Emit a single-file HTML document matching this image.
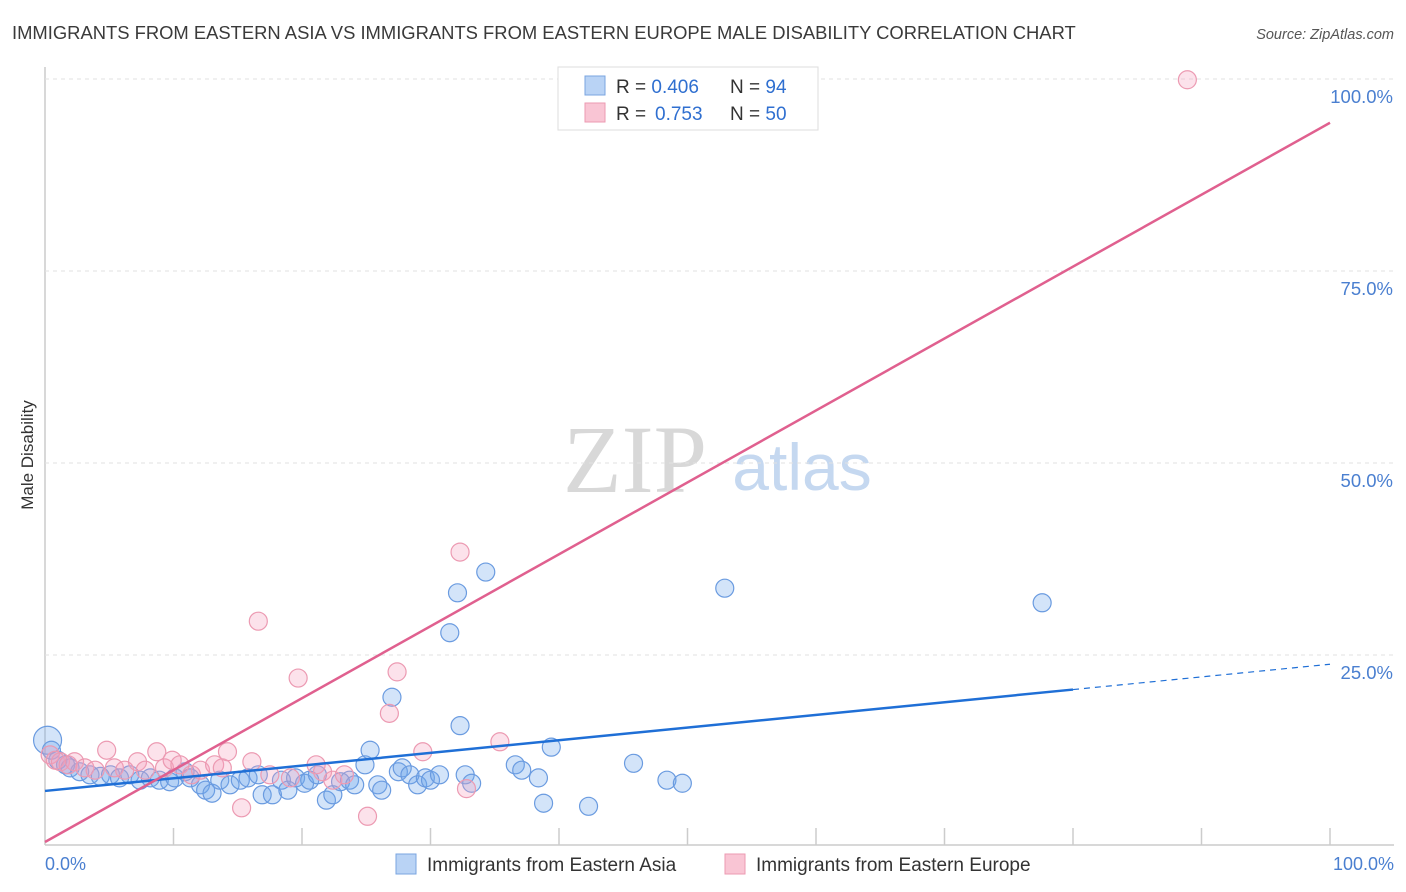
<!DOCTYPE html>
<html><head><meta charset="utf-8"><style>
body{margin:0;background:#fff;font-family:"Liberation Sans",sans-serif;}
svg{display:block}
</style></head><body>
<svg width="1406" height="892" id="chart">
<text x="12" y="39" font-size="18.4" fill="#3a3a3a">IMMIGRANTS FROM EASTERN ASIA VS IMMIGRANTS FROM EASTERN EUROPE MALE DISABILITY CORRELATION CHART</text>
<text x="1394" y="39" font-size="14.5" fill="#555" font-style="italic" text-anchor="end">Source: ZipAtlas.com</text>
<text x="33" y="455" font-size="17" fill="#333" text-anchor="middle" transform="rotate(-90 33 455)">Male Disability</text>
<text x="635" y="492" font-size="96" fill="#d8d8d8" font-family="Liberation Serif,serif" text-anchor="middle">ZIP</text>
<text x="802" y="490" font-size="66" fill="#c5d8f0" text-anchor="middle">atlas</text>
<g id="grid"></g>
<g id="pts"></g>
<g id="lines"></g>
<g>
<rect x="558" y="67" width="260" height="63" fill="#fff" stroke="#ddd"/>
<rect x="585" y="76" width="20" height="19" fill="#b9d3f5" stroke="#7aa5e0"/>
<rect x="585" y="103" width="20" height="19" fill="#f9c5d4" stroke="#ec9ab2"/>
<text x="616" y="93" font-size="19" fill="#333">R = <tspan fill="#2f6fd0">0.406</tspan><tspan x="730">N = </tspan><tspan fill="#2f6fd0">94</tspan></text>
<text x="616" y="120" font-size="19" fill="#333">R = <tspan fill="#2f6fd0" x="655">0.753</tspan><tspan x="730">N = </tspan><tspan fill="#2f6fd0">50</tspan></text>
</g>
<g>
<rect x="396" y="854" width="20" height="20" fill="#b9d3f5" stroke="#7aa5e0"/>
<text x="427" y="871" font-size="19" fill="#333">Immigrants from Eastern Asia</text>
<rect x="725" y="854" width="20" height="20" fill="#f9c5d4" stroke="#ec9ab2"/>
<text x="756" y="871" font-size="19" fill="#333">Immigrants from Eastern Europe</text>
</g>
<text x="45" y="870" font-size="18" fill="#4a7fd0">0.0%</text>
<text x="1394" y="870" font-size="18" fill="#4a7fd0" text-anchor="end">100.0%</text>
</svg>
<script>
const blueX=[0.2,0.5,1.0,1.6,1.95,2.7,3.5,4.3,5.1,5.8,6.6,7.4,8.2,8.9,9.7,10.1,10.9,11.3,12.1,12.5,13.0,13.6,14.4,15.2,15.8,16.6,16.9,17.7,18.4,18.9,19.5,20.2,20.6,21.2,21.9,22.4,23.0,23.7,24.1,24.9,25.3,25.9,26.2,27.0,27.5,27.8,28.4,29.0,29.6,30.0,30.7,31.5,32.1,32.3,32.7,33.2,34.3,36.6,37.1,38.4,38.8,39.4,42.3,45.8,48.4,49.6,52.9,77.6];
const blueY=[13.9,12.6,11.3,10.7,10.3,9.8,9.4,9.2,9.4,9.0,9.4,8.7,9.0,8.7,8.5,9.0,9.8,9.0,8.1,7.4,7.0,8.7,8.1,8.7,9.0,9.4,6.8,6.8,8.7,7.4,9.0,8.3,8.7,9.4,6.1,6.8,8.5,8.7,8.1,10.7,12.6,8.1,7.4,19.5,9.8,10.3,9.4,8.1,9.0,8.7,9.4,27.9,33.1,15.8,9.4,8.3,35.8,10.7,10.0,9.0,5.7,13.0,5.3,10.9,8.7,8.3,33.7,31.8];
const pinkX=[0.4,0.8,1.2,1.8,2.3,3.1,3.9,4.8,5.4,6.2,7.2,7.8,8.7,9.3,9.9,10.5,11.4,12.1,13.2,13.8,14.2,15.3,16.1,16.6,17.5,19.1,19.7,21.1,21.6,22.4,23.3,25.1,26.8,27.4,29.4,32.3,32.8,35.4,88.9];
const pinkY=[12.0,11.3,11.1,10.7,11.1,10.3,10.0,12.6,10.3,10.0,11.1,10.0,12.4,10.3,11.3,10.7,9.4,10.0,10.7,10.3,12.4,5.1,11.1,29.4,9.4,9.0,22.0,10.7,9.8,8.7,9.4,4.0,17.4,22.8,12.4,38.4,7.6,13.7,99.9];
const blueLine=[7.3,23.8];const blueSolidEnd=80;
const pinkLine=[0.65,94.3];
const yTicks=[25,50,75,100];
const yTickLabels=["25.0%","50.0%","75.0%","100.0%"];
const xTicks=[0,10,20,30,40,50,60,70,80,90,100];
const NS="http://www.w3.org/2000/svg";
const sx=v=>45+v*12.85, sy=v=>847-v*7.68;
function mk(t,a,p){const e=document.createElementNS(NS,t);for(const k in a)e.setAttribute(k,a[k]);p.appendChild(e);return e;}
const grid=document.getElementById('grid');
mk('line',{x1:45,y1:67,x2:45,y2:845,stroke:'#ccc','stroke-width':1.5},grid);
mk('line',{x1:45,y1:845,x2:1394,y2:845,stroke:'#ccc','stroke-width':1.5},grid);
yTicks.forEach((t,i)=>{
 const l=mk('line',{x1:45,y1:sy(t),x2:1394,y2:sy(t),stroke:'#e2e2e2','stroke-dasharray':'4,4'},grid);
 
 
 const tx=mk('text',{x:1393,y:sy(t)+24,'font-size':18.5,fill:'#4a7fd0','text-anchor':'end'},grid);
 tx.textContent=yTickLabels[i];
 
 
});
xTicks.forEach(t=>{
 if(t===0)return;
 const l=mk('line',{x1:sx(t),y1:828,x2:sx(t),y2:845,stroke:'#ccc','stroke-width':1.5},grid);
 
 
});
const pts=document.getElementById('pts');
blueX.forEach((x,i)=>{
 const c=mk('circle',{cx:sx(x),cy:sy(blueY[i]),r:i===0?14:9,fill:'rgba(110,165,235,0.3)',stroke:'#6a9be0','stroke-width':1.2},pts);
 
 
});
pinkX.forEach((x,i)=>{
 const c=mk('circle',{cx:sx(x),cy:sy(pinkY[i]),r:9,fill:'rgba(245,160,190,0.3)',stroke:'#ec9ab2','stroke-width':1.2},pts);
 
 
});
const lines=document.getElementById('lines');
const by=x=>blueLine[0]+(blueLine[1]-blueLine[0])*x/100;
let l1=mk('line',{x1:sx(0),y1:sy(by(0)),x2:sx(blueSolidEnd),y2:sy(by(blueSolidEnd)),stroke:'#1f6fd6','stroke-width':2.5},lines);


let l2=mk('line',{x1:sx(blueSolidEnd),y1:sy(by(blueSolidEnd)),x2:sx(100),y2:sy(by(100)),stroke:'#1f6fd6','stroke-width':1.2,'stroke-dasharray':'6,5'},lines);


let l3=mk('line',{x1:sx(0),y1:sy(pinkLine[0]),x2:sx(100),y2:sy(pinkLine[1]),stroke:'#e0608f','stroke-width':2.5},lines);


</script>
</body></html>
